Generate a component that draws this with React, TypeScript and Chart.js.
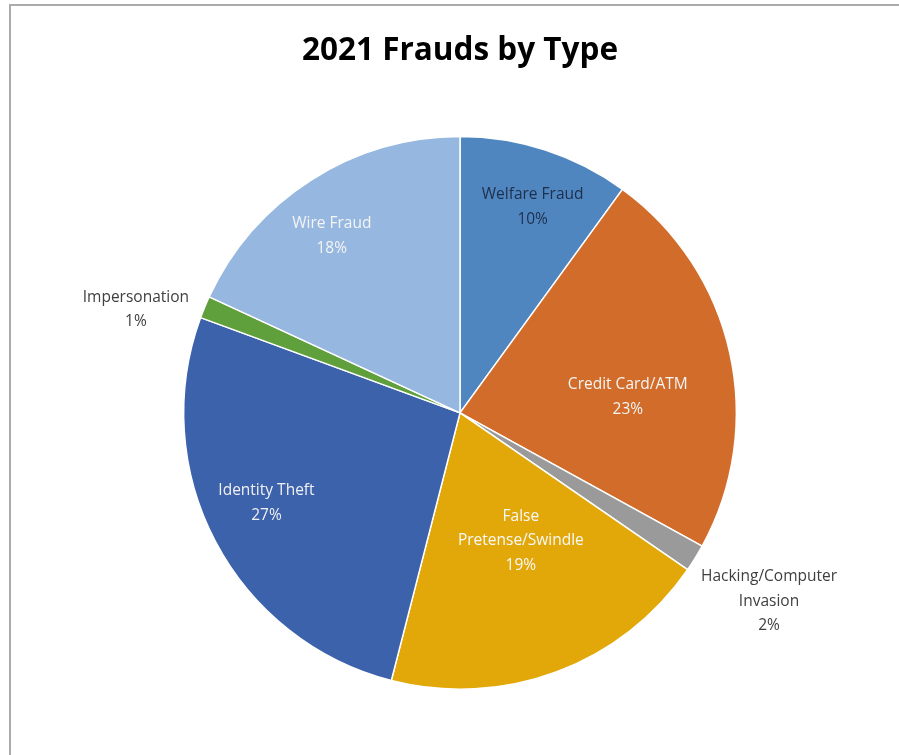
import React, { useEffect, useRef } from "react";
import { Chart, registerables } from "chart.js";

Chart.register(...registerables);

const title = "2021 Frauds by Type";
const categories = [
  "Welfare Fraud",
  "Credit Card/ATM",
  "Hacking/Computer Invasion",
  "False Pretense/Swindle",
  "Identity Theft",
  "Impersonation",
  "Wire Fraud",
];
const shares = [10.0, 23.0, 1.6, 19.4, 26.6, 1.3, 18.1];
const labelLines = [
  ["Welfare Fraud"],
  ["Credit Card/ATM"],
  ["Hacking/Computer", "Invasion"],
  ["False", "Pretense/Swindle"],
  ["Identity Theft"],
  ["Impersonation"],
  ["Wire Fraud"],
];
const colors = ["#4F86C0", "#D26C2A", "#9A9A9A", "#E2A80A", "#3D62AC", "#60A03C", "#96B7DF"];
const labelColors = ["#1E2F4C", "#F4F4F4", "#404040", "#F8F8F8", "#F0F0F0", "#404040", "#F4F4F4"];
// label placement: fraction of outer radius, and fraction across the slice's angle
const labelRadius = [0.79, 0.61, 1.31, 0.512, 0.773, 1.231, 0.79];
const labelAngleFrac = [0.54, 0.587, 0.45, 0.429, 0.528, -0.53, 0.448];
const FONT = "'Open Sans', Lato, sans-serif";

const labelPlugin = {
  id: "sliceLabels",
  afterDatasetsDraw(chart: any) {
    const ctx = chart.ctx;
    const meta = chart.getDatasetMeta(0);
    const data = chart.data.datasets[0].data as number[];
    const total = data.reduce((a: number, b: number) => a + b, 0);
    ctx.save();
    ctx.font = `15.5px ${FONT}`;
    ctx.textAlign = "center";
    ctx.textBaseline = "middle";
    meta.data.forEach((arc: any, i: number) => {
      const p = arc.getProps(["x", "y", "startAngle", "endAngle", "outerRadius"], true);
      const ang = p.startAngle + (p.endAngle - p.startAngle) * labelAngleFrac[i];
      const r = p.outerRadius * labelRadius[i];
      const cx = p.x + Math.cos(ang) * r;
      const cy = p.y + Math.sin(ang) * r;
      const lines = [...labelLines[i], `${Math.round((data[i] / total) * 100)}%`];
      const lh = 24.5;
      const y0 = cy - ((lines.length - 1) * lh) / 2;
      ctx.fillStyle = labelColors[i];
      lines.forEach((t, k) => ctx.fillText(t, cx, y0 + k * lh));
    });
    ctx.restore();
  },
};

export default function App() {
  const ref = useRef<HTMLCanvasElement>(null);
  useEffect(() => {
    if (!ref.current) return;
    const chart = new Chart(ref.current, {
      type: "pie",
      data: {
        labels: categories,
        datasets: [
          {
            data: shares,
            backgroundColor: colors,
            borderColor: "#ffffff",
            borderWidth: 1.5,
          },
        ],
      },
      options: {
        responsive: false,
        animation: false,
        layout: { padding: { left: 21, right: 0, top: 0, bottom: 65 } },
        plugins: {
          legend: { display: false },
          tooltip: { enabled: false },
          title: {
            display: true,
            text: title,
            color: "#000000",
            font: { family: FONT, size: 31.5, weight: "bold", lineHeight: 1.2 },
            padding: { top: 32, bottom: 66 },
          },
        },
      },
      plugins: [labelPlugin],
    });
    return () => chart.destroy();
  }, []);
  return (
    <div style={{ position: "fixed", left: 0, top: 0, width: 899, height: 755, background: "#fff", overflow: "hidden" }}>
      <div
        style={{
          position: "absolute",
          left: 9,
          top: 4,
          width: 1000,
          height: 1000,
          border: "2px solid #ababab",
          boxSizing: "border-box",
        }}
      />
      <canvas ref={ref} width={899} height={755} style={{ position: "absolute", left: 0, top: 0 }} />
    </div>
  );
}
